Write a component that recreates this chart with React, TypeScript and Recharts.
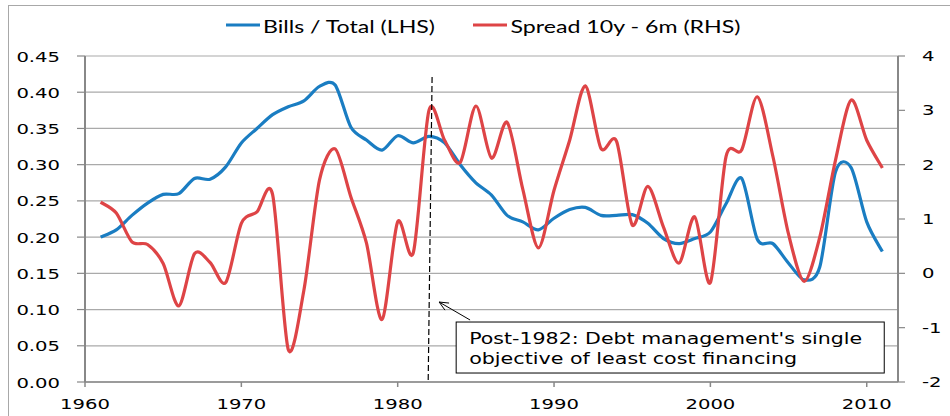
import React from 'react';
import { LineChart, Line, XAxis, YAxis, CartesianGrid, ReferenceLine, ReferenceArea, Legend } from 'recharts';

const years = [
  1961, 1962, 1963, 1964, 1965, 1966, 1967, 1968, 1969, 1970,
  1971, 1972, 1973, 1974, 1975, 1976, 1977, 1978, 1979, 1980,
  1981, 1982, 1983, 1984, 1985, 1986, 1987, 1988, 1989, 1990,
  1991, 1992, 1993, 1994, 1995, 1996, 1997, 1998, 1999, 2000,
  2001, 2002, 2003, 2004, 2005, 2006, 2007, 2008, 2009, 2010, 2011,
];

const billsShare = [
  0.200, 0.210, 0.230, 0.247, 0.259, 0.260, 0.281, 0.280, 0.297, 0.330,
  0.350, 0.369, 0.380, 0.388, 0.408, 0.410, 0.352, 0.334, 0.320, 0.340,
  0.330, 0.339, 0.330, 0.300, 0.275, 0.258, 0.230, 0.221, 0.210, 0.226,
  0.238, 0.241, 0.230, 0.230, 0.231, 0.219, 0.198, 0.191, 0.198, 0.207,
  0.246, 0.281, 0.197, 0.191, 0.164, 0.141, 0.159, 0.290, 0.296, 0.221, 0.180,
];

const spread = [
  1.31, 1.11, 0.58, 0.53, 0.18, -0.60, 0.36, 0.20, -0.17, 0.92,
  1.13, 1.45, -1.40, -0.31, 1.72, 2.29, 1.41, 0.56, -0.85, 0.95,
  0.38, 3.00, 2.45, 2.04, 3.08, 2.12, 2.78, 1.55, 0.47, 1.53,
  2.45, 3.45, 2.30, 2.43, 0.89, 1.60, 0.85, 0.19, 1.04, -0.17,
  2.15, 2.27, 3.25, 2.15, 0.72, -0.15, 0.67, 2.08, 3.19, 2.45, 1.94,
];

const xTicks = [1960, 1970, 1980, 1990, 2000, 2010];
const leftTicks = [0, 0.05, 0.1, 0.15, 0.2, 0.25, 0.3, 0.35, 0.4, 0.45];
const rightTicks = [-2, -1, 0, 1, 2, 3, 4];

const seriesNames = ['Bills / Total (LHS)', 'Spread 10y - 6m (RHS)'];
const annotationLines = ["Post-1982: Debt management's single", 'objective of least cost financing'];
const breakYear = 1982;

const data = years.map((year, i) => ({ year, bills: billsShare[i], spread: spread[i] }));

const BLUE = '#1A7DC2';
const RED = '#DE4446';
const AXIS = '#888888';
const GRID = '#AAAAAA';
const FONT = 'DejaVu Sans';

// Smoothed Bezier line (similar to Excel smoothed lines)
const SMOOTH = 1 / 7;
const smoothCurve = (context: any) => {
  let pts: number[][] = [];
  return {
    areaStart() {},
    areaEnd() {},
    lineStart() {
      pts = [];
    },
    point(x: number, y: number) {
      pts.push([+x, +y]);
    },
    lineEnd() {
      const n = pts.length;
      if (!n) return;
      context.moveTo(pts[0][0], pts[0][1]);
      for (let i = 0; i < n - 1; i++) {
        const p0 = pts[Math.max(i - 1, 0)];
        const p1 = pts[i];
        const p2 = pts[i + 1];
        const p3 = pts[Math.min(i + 2, n - 1)];
        context.bezierCurveTo(
          p1[0] + (p2[0] - p0[0]) * SMOOTH,
          p1[1] + (p2[1] - p0[1]) * SMOOTH,
          p2[0] - (p3[0] - p1[0]) * SMOOTH,
          p2[1] - (p3[1] - p1[1]) * SMOOTH,
          p2[0],
          p2[1]
        );
      }
    },
  };
};

const XTick = (props: any) => {
  const { x, y, payload } = props;
  return (
    <g transform={`translate(${x},${y}) scale(1.4,1)`}>
      <text x={0} y={0} dy={20} textAnchor="middle" fontFamily={FONT} fontSize={14} fill="#000">
        {String(payload.value)}
      </text>
    </g>
  );
};

const LeftTick = (props: any) => {
  const { x, y, payload } = props;
  return (
    <g transform={`translate(${x},${y}) scale(1.4,1)`}>
      <text x={0} y={0} dy={5.5} textAnchor="end" fontFamily={FONT} fontSize={14} fill="#000">
        {Number(payload.value).toFixed(2)}
      </text>
    </g>
  );
};

const RightTick = (props: any) => {
  const { x, y, payload } = props;
  return (
    <g transform={`translate(${x},${y}) scale(1.4,1)`}>
      <text x={0} y={0} dy={5} textAnchor="start" fontFamily={FONT} fontSize={14} fill="#000">
        {String(payload.value)}
      </text>
    </g>
  );
};

const ArrowShape = (props: any) => {
  const { x1, y1, x2, y2 } = props;
  const ang = Math.atan2(y2 - y1, x2 - x1);
  const len = 10;
  const spreadA = 0.42;
  const ax = x2 - len * Math.cos(ang - spreadA);
  const ay = y2 - len * Math.sin(ang - spreadA);
  const bx = x2 - len * Math.cos(ang + spreadA);
  const by = y2 - len * Math.sin(ang + spreadA);
  return (
    <g>
      <line x1={x1} y1={y1} x2={x2} y2={y2} stroke="#000" strokeWidth={1} />
      <polyline points={`${ax},${ay} ${x2},${y2} ${bx},${by}`} fill="none" stroke="#000" strokeWidth={1} />
    </g>
  );
};

const BoxShape = (props: any) => {
  const { x, y, width, height } = props;
  return (
    <g>
      <rect x={x} y={y} width={width} height={height} fill="#fff" stroke="#000" strokeWidth={1} />
      <text x={x + 13} y={y + 21.5} fontFamily={FONT} fontSize={15} fill="#000" textLength={393} lengthAdjust="spacingAndGlyphs">
        {annotationLines[0]}
      </text>
      <text x={x + 13} y={y + 42} fontFamily={FONT} fontSize={15} fill="#000" textLength={328} lengthAdjust="spacingAndGlyphs">
        {annotationLines[1]}
      </text>
    </g>
  );
};

const LegendContent = () => (
  <svg width={950} height={40}>
    <line x1={226} y1={25} x2={260} y2={25} stroke={BLUE} strokeWidth={3} />
    <text x={263} y={33} fontFamily="Lato" fontSize={16.5} fill="#000" textLength={172} lengthAdjust="spacingAndGlyphs">
      {seriesNames[0]}
    </text>
    <line x1={473} y1={25} x2={507} y2={25} stroke={RED} strokeWidth={3} />
    <text x={510.5} y={33} fontFamily="Lato" fontSize={16.5} fill="#000" textLength={230} lengthAdjust="spacingAndGlyphs">
      {seriesNames[1]}
    </text>
  </svg>
);

export default function App() {
  return (
    <div style={{ position: 'absolute', left: 0, top: 0, width: 950, height: 416, overflow: 'hidden', background: '#fff' }}>
      <div
        style={{
          position: 'absolute',
          left: 8,
          top: 5,
          width: 950,
          height: 420,
          borderLeft: '1px solid #A8A8A8',
          borderTop: '1px solid #A8A8A8',
        }}
      />
      <div style={{ position: 'absolute', left: 0, top: 0 }}>
        <LineChart width={950} height={416} data={data} margin={{ top: 56, right: 0, bottom: 0, left: 0 }}>
          <CartesianGrid yAxisId="left" vertical={false} stroke={GRID} strokeWidth={1.2} />
          <XAxis
            dataKey="year"
            type="number"
            domain={[1960, 2012]}
            ticks={xTicks}
            interval={0}
            height={34}
            tickSize={5}
            tickMargin={2}
            axisLine={{ stroke: AXIS, strokeWidth: 1.5 }}
            tickLine={{ stroke: AXIS, strokeWidth: 1.5 }}
            tick={<XTick />}
          />
          <YAxis
            yAxisId="left"
            orientation="left"
            width={85}
            domain={[0, 0.45]}
            ticks={leftTicks}
            interval={0}
            tickSize={8}
            tickMargin={17}
            axisLine={{ stroke: AXIS, strokeWidth: 2 }}
            tickLine={{ stroke: AXIS, strokeWidth: 1.2 }}
            tick={<LeftTick />}
          />
          <YAxis
            yAxisId="right"
            orientation="right"
            width={52}
            domain={[-2, 4]}
            ticks={rightTicks}
            interval={0}
            tickSize={7}
            tickMargin={17}
            axisLine={{ stroke: AXIS, strokeWidth: 2 }}
            tickLine={{ stroke: AXIS, strokeWidth: 1.2 }}
            tick={<RightTick />}
          />
          <Legend
            layout="horizontal"
            verticalAlign="middle"
            align="center"
            content={<LegendContent />}
            wrapperStyle={{ top: 0, left: 0, width: 950, height: 40 }}
          />
          <Line
            yAxisId="left"
            dataKey="bills"
            name={seriesNames[0]}
            type={smoothCurve as any}
            stroke={BLUE}
            strokeWidth={3.2}
            dot={false}
            activeDot={false}
            isAnimationActive={false}
          />
          <Line
            yAxisId="right"
            dataKey="spread"
            name={seriesNames[1]}
            type={smoothCurve as any}
            stroke={RED}
            strokeWidth={3.2}
            dot={false}
            activeDot={false}
            isAnimationActive={false}
          />
          <ReferenceLine
            yAxisId="left"
            segment={[
              { x: breakYear + 0.2, y: 0.421 },
              { x: breakYear - 0.05, y: 0 },
            ]}
            stroke="#000"
            strokeWidth={1.2}
            strokeDasharray="6 3"
          />
          <ReferenceLine
            yAxisId="left"
            segment={[
              { x: 1984.63, y: 0.0856 },
              { x: 1982.65, y: 0.1104 },
            ]}
            shape={ArrowShape}
          />
          <ReferenceArea
            yAxisId="left"
            x1={1983.74}
            x2={2011.12}
            y1={0.0124}
            y2={0.0828}
            ifOverflow="visible"
            shape={BoxShape}
          />
        </LineChart>
      </div>
    </div>
  );
}
